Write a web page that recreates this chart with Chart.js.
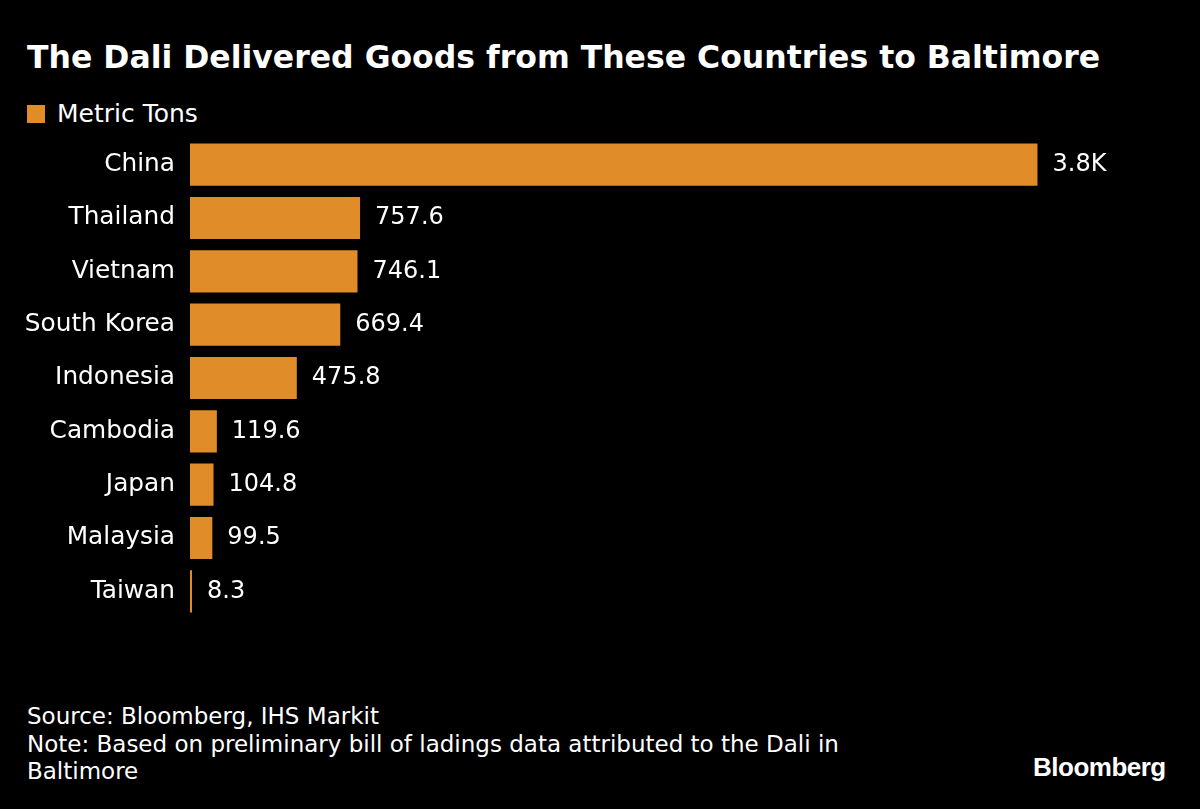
<!DOCTYPE html>
<html>
<head>
<meta charset="utf-8">
<script src="https://cdn.jsdelivr.net/npm/chart.js@4"></script>
<style>
  body { margin: 0; background: #000; width: 1200px; height: 809px; overflow: hidden; position: relative; font-family: "DejaVu Sans", sans-serif; color: #fff; }
  .title { position: absolute; left: 27px; top: 39px; font-size: 31.5px; font-weight: bold; white-space: nowrap; }
  .legend { position: absolute; left: 27px; top: 99px; font-size: 25px; display: flex; align-items: center; }
  .legend span.box { width: 18px; height: 18px; background: #df8c29; margin-right: 12px; }
  .footer { position: absolute; left: 27px; top: 703px; font-size: 23px; line-height: 27.5px; }
  .logo { position: absolute; left: 1033px; top: 752px; font-family: "Liberation Sans", sans-serif; font-weight: bold; font-size: 26px; letter-spacing: -0.5px; }
  #chart { position: absolute; left: 0; top: 138px; }
</style>
</head>
<body>
<div class="title">The Dali Delivered Goods from These Countries to Baltimore</div>
<div class="legend"><span class="box"></span>Metric Tons</div>
<canvas id="chart" width="1200" height="480"></canvas>
<div class="footer">Source: Bloomberg, IHS Markit<br>Note: Based on preliminary bill of ladings data attributed to the Dali in<br>Baltimore</div>
<div class="logo">Bloomberg</div>
<script>
const countries = ["China", "Thailand", "Vietnam", "South Korea", "Indonesia", "Cambodia", "Japan", "Malaysia", "Taiwan"];
const tons = [3775, 757.6, 746.1, 669.4, 475.8, 119.6, 104.8, 99.5, 8.3];
const barColor = "#df8c29";

// value labels at the end of each bar
const valueLabels = {
  id: "valueLabels",
  afterDatasetsDraw(chart) {
    const ctx = chart.ctx;
    const meta = chart.getDatasetMeta(0);
    ctx.save();
    ctx.font = "24px 'DejaVu Sans'";
    ctx.fillStyle = "#fff";
    ctx.textBaseline = "middle";
    meta.data.forEach((bar, i) => {
      const v = tons[i];
      const txt = v >= 1000 ? (v / 1000).toFixed(1) + "K" : v.toFixed(1);
      ctx.fillText(txt, bar.x + 15, bar.y);
    });
    ctx.restore();
  },
};

new Chart(document.getElementById("chart"), {
  type: "bar",
  data: {
    labels: countries,
    datasets: [{
      label: "Metric Tons",
      data: tons,
      backgroundColor: barColor,
      borderWidth: 0,
      categoryPercentage: 1,
      barPercentage: 0.79,
      minBarLength: 2,
    }],
  },
  options: {
    indexAxis: "y",
    responsive: false,
    animation: false,
    layout: { padding: { left: 0, right: 112, top: 0, bottom: 0 } },
    plugins: { legend: { display: false }, tooltip: { enabled: false } },
    scales: {
      x: { display: false, min: 0, max: 4000 },
      y: {
        grid: { display: false, drawTicks: false },
        border: { display: false },
        ticks: { color: "#fff", font: { family: "DejaVu Sans", size: 24.8 }, padding: 15 },
        afterFit(scale) {
          scale.width = 190;
          scale.paddingTop = 0;
          scale.paddingBottom = 0;
        },
      },
    },
  },
  plugins: [valueLabels],
});
</script>
</body>
</html>
